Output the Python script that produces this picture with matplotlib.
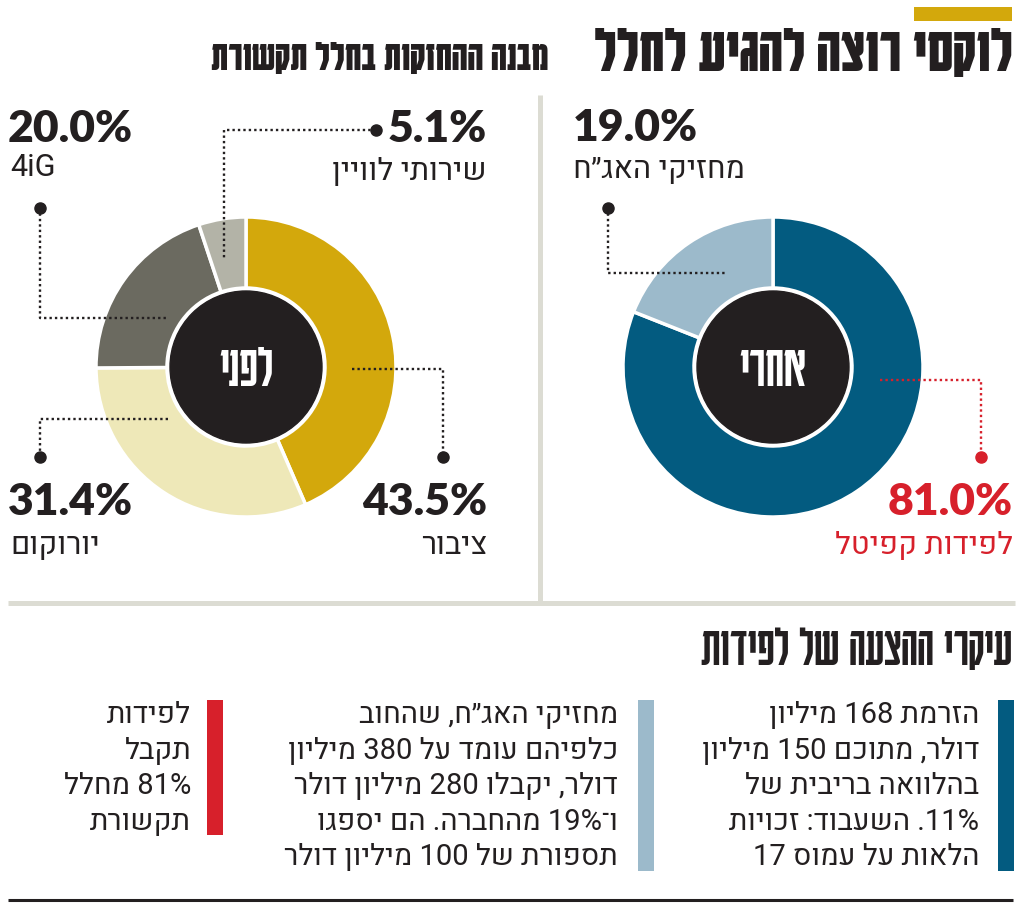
import re
import matplotlib
matplotlib.use("Agg")
import matplotlib.pyplot as plt
from matplotlib.patches import Circle, Rectangle

W, H = 1024, 909

# holdings before / after
before_labels = ["ציבור", "יורוקום", "4iG", "שירותי לוויין"]
before_values = [43.5, 31.4, 20.0, 5.1]
before_colors = ["#d3a80c", "#eee8b8", "#6b6a60", "#b3b3a7"]

after_labels = ["לפידות קפיטל", "מחזיקי האג״ח"]
after_values = [81.0, 19.0]
after_colors = ["#035b80", "#9cbacb"]

title = "לוקסי רוצה להגיע לחלל"
subtitle = "מבנה ההחזקות בחלל תקשורת"
section_title = "עיקרי ההצעה של לפידות"

notes_lapidot = ["הזרמת 168 מיליון", "דולר, מתוכם 150 מיליון", "בהלוואה בריבית של",
                 "11%. השעבוד: זכויות", "הלאות על עמוס 17"]
notes_bonds = ["מחזיקי האג״ח, שהחוב", "כלפיהם עומד על 380 מיליון", "דולר, יקבלו 280 מיליון דולר",
               "ו־19% מהחברה. הם יספגו", "תספורת של 100 מיליון דולר"]
notes_share = ["לפידות", "תקבל", "81% מחלל", "תקשורת"]

BLACK = "#231f20"
RED = "#d7202b"
GOLD = "#d3a80c"
GRAY = "#dcdcd3"

HEB = ["Heebo", "DejaVu Sans"]
COND = ["Karantina", "DejaVu Sans"]
NUM = ["Lato", "DejaVu Sans"]


def vis(s):
    # matplotlib has no bidi: reverse the line, keep numbers / latin runs left-to-right
    r = s[::-1]
    return re.sub(r"[0-9A-Za-z%][0-9A-Za-z%.,]*[0-9A-Za-z%]|[0-9A-Za-z%]", lambda m: m.group(0)[::-1], r)


def Y(y):
    return H - y


fig = plt.figure(figsize=(W / 100, H / 100), dpi=100)
ax = fig.add_axes([0, 0, 1, 1])


def donut(values, colors, cx, cy, label):
    ax.pie(values, colors=colors, center=(cx, Y(cy)), radius=150, startangle=90,
           counterclock=False, wedgeprops=dict(width=71, edgecolor="white", linewidth=2.5))
    ax.add_patch(Circle((cx, Y(cy)), 76, color=BLACK, zorder=3))
    ax.text(cx, Y(cy + 2), vis(label), color="white", fontsize=43, family=COND,
            ha="center", va="center", zorder=4)


def leader(xs, ys, dot, color=BLACK):
    ax.plot(xs, [Y(v) for v in ys], color=color, lw=1.7, ls=(0, (1, 1.3)), zorder=5)
    ax.plot(dot[0], Y(dot[1]), "o", color=color, ms=8, zorder=5)


def pct(v):
    return f"{v:.1f}%"


donut(before_values, before_colors, 246, 367, "לפני")
donut(after_values, after_colors, 773, 367, "אחרי")

# leaders, left donut
leader([376, 224, 224], [130, 130, 258], (376, 130))
leader([40, 40, 168], [208, 318, 318], (40, 208))
leader([168, 40, 40], [419, 419, 457], (40, 457))
leader([352, 443, 443], [369, 369, 457], (443, 457))
# leaders, right donut
leader([608, 608, 725], [208, 273, 273], (608, 208))
leader([880, 981, 981], [380, 380, 457], (981, 457), RED)

big = dict(fontsize=32, family=NUM, weight="heavy", va="center")
lab = dict(fontsize=22, family=HEB, va="center")

ax.text(487, Y(502), pct(before_values[0]), ha="right", color=BLACK, **big)
ax.text(487, Y(545), vis(before_labels[0]), ha="right", color=BLACK, **lab)
ax.text(8, Y(502), pct(before_values[1]), ha="left", color=BLACK, **big)
ax.text(10, Y(545), vis(before_labels[1]), ha="left", color=BLACK, **lab)
ax.text(8, Y(129), pct(before_values[2]), ha="left", color=BLACK, **big)
ax.text(10, Y(168), vis(before_labels[2]), ha="left", color=BLACK, **lab)
ax.text(487, Y(129), pct(before_values[3]), ha="right", color=BLACK, **big)
ax.text(487, Y(172), vis(before_labels[3]), ha="right", color=BLACK, **lab)

ax.text(1013, Y(502), pct(after_values[0]), ha="right", color=RED, **big)
ax.text(1013, Y(545), vis(after_labels[0]), ha="right", color=RED, **lab)
ax.text(573, Y(128), pct(after_values[1]), ha="left", color=BLACK, **big)
ax.text(573, Y(170), vis(after_labels[1]), ha="left", color=BLACK, **lab)

# header
ax.add_patch(Rectangle((914, Y(21)), 98, 14, color=GOLD, lw=0))
ax.text(1012, Y(71), vis(title), ha="right", va="baseline", fontsize=47, family=COND,
        weight="bold", color=BLACK)
ax.text(548, Y(70), vis(subtitle), ha="right", va="baseline", fontsize=31, family=COND,
        weight="bold", color=BLACK)

# dividers
ax.plot([540, 540], [Y(95), Y(603)], color=GRAY, lw=3.6, solid_capstyle="butt")
ax.plot([8, 1015], [Y(603), Y(603)], color=GRAY, lw=3.6, solid_capstyle="butt")

# proposal notes
ax.text(1012, Y(665), vis(section_title), ha="right", va="baseline", fontsize=41,
        family=COND, color=BLACK)

columns = [(notes_lapidot, after_colors[0], 998, 979),
           (notes_bonds, after_colors[1], 638, 618),
           (notes_share, RED, 207, 191)]
for lines, color, bar_x, text_x in columns:
    n = len(lines)
    ax.add_patch(Rectangle((bar_x, Y(700 + n * 35.5 - 7)), 16, n * 35.5 - 7, color=color, lw=0))
    for i, line in enumerate(lines):
        ax.text(text_x, Y(715 + i * 35.6), vis(line), ha="right", va="center",
                fontsize=21, family=HEB, color=BLACK)

ax.plot([8, 1013], [Y(900), Y(900)], color=BLACK, lw=2.2, solid_capstyle="butt")

ax.set_xlim(0, W)
ax.set_ylim(0, H)
ax.axis("off")
fig.savefig("out.png", dpi=100)
